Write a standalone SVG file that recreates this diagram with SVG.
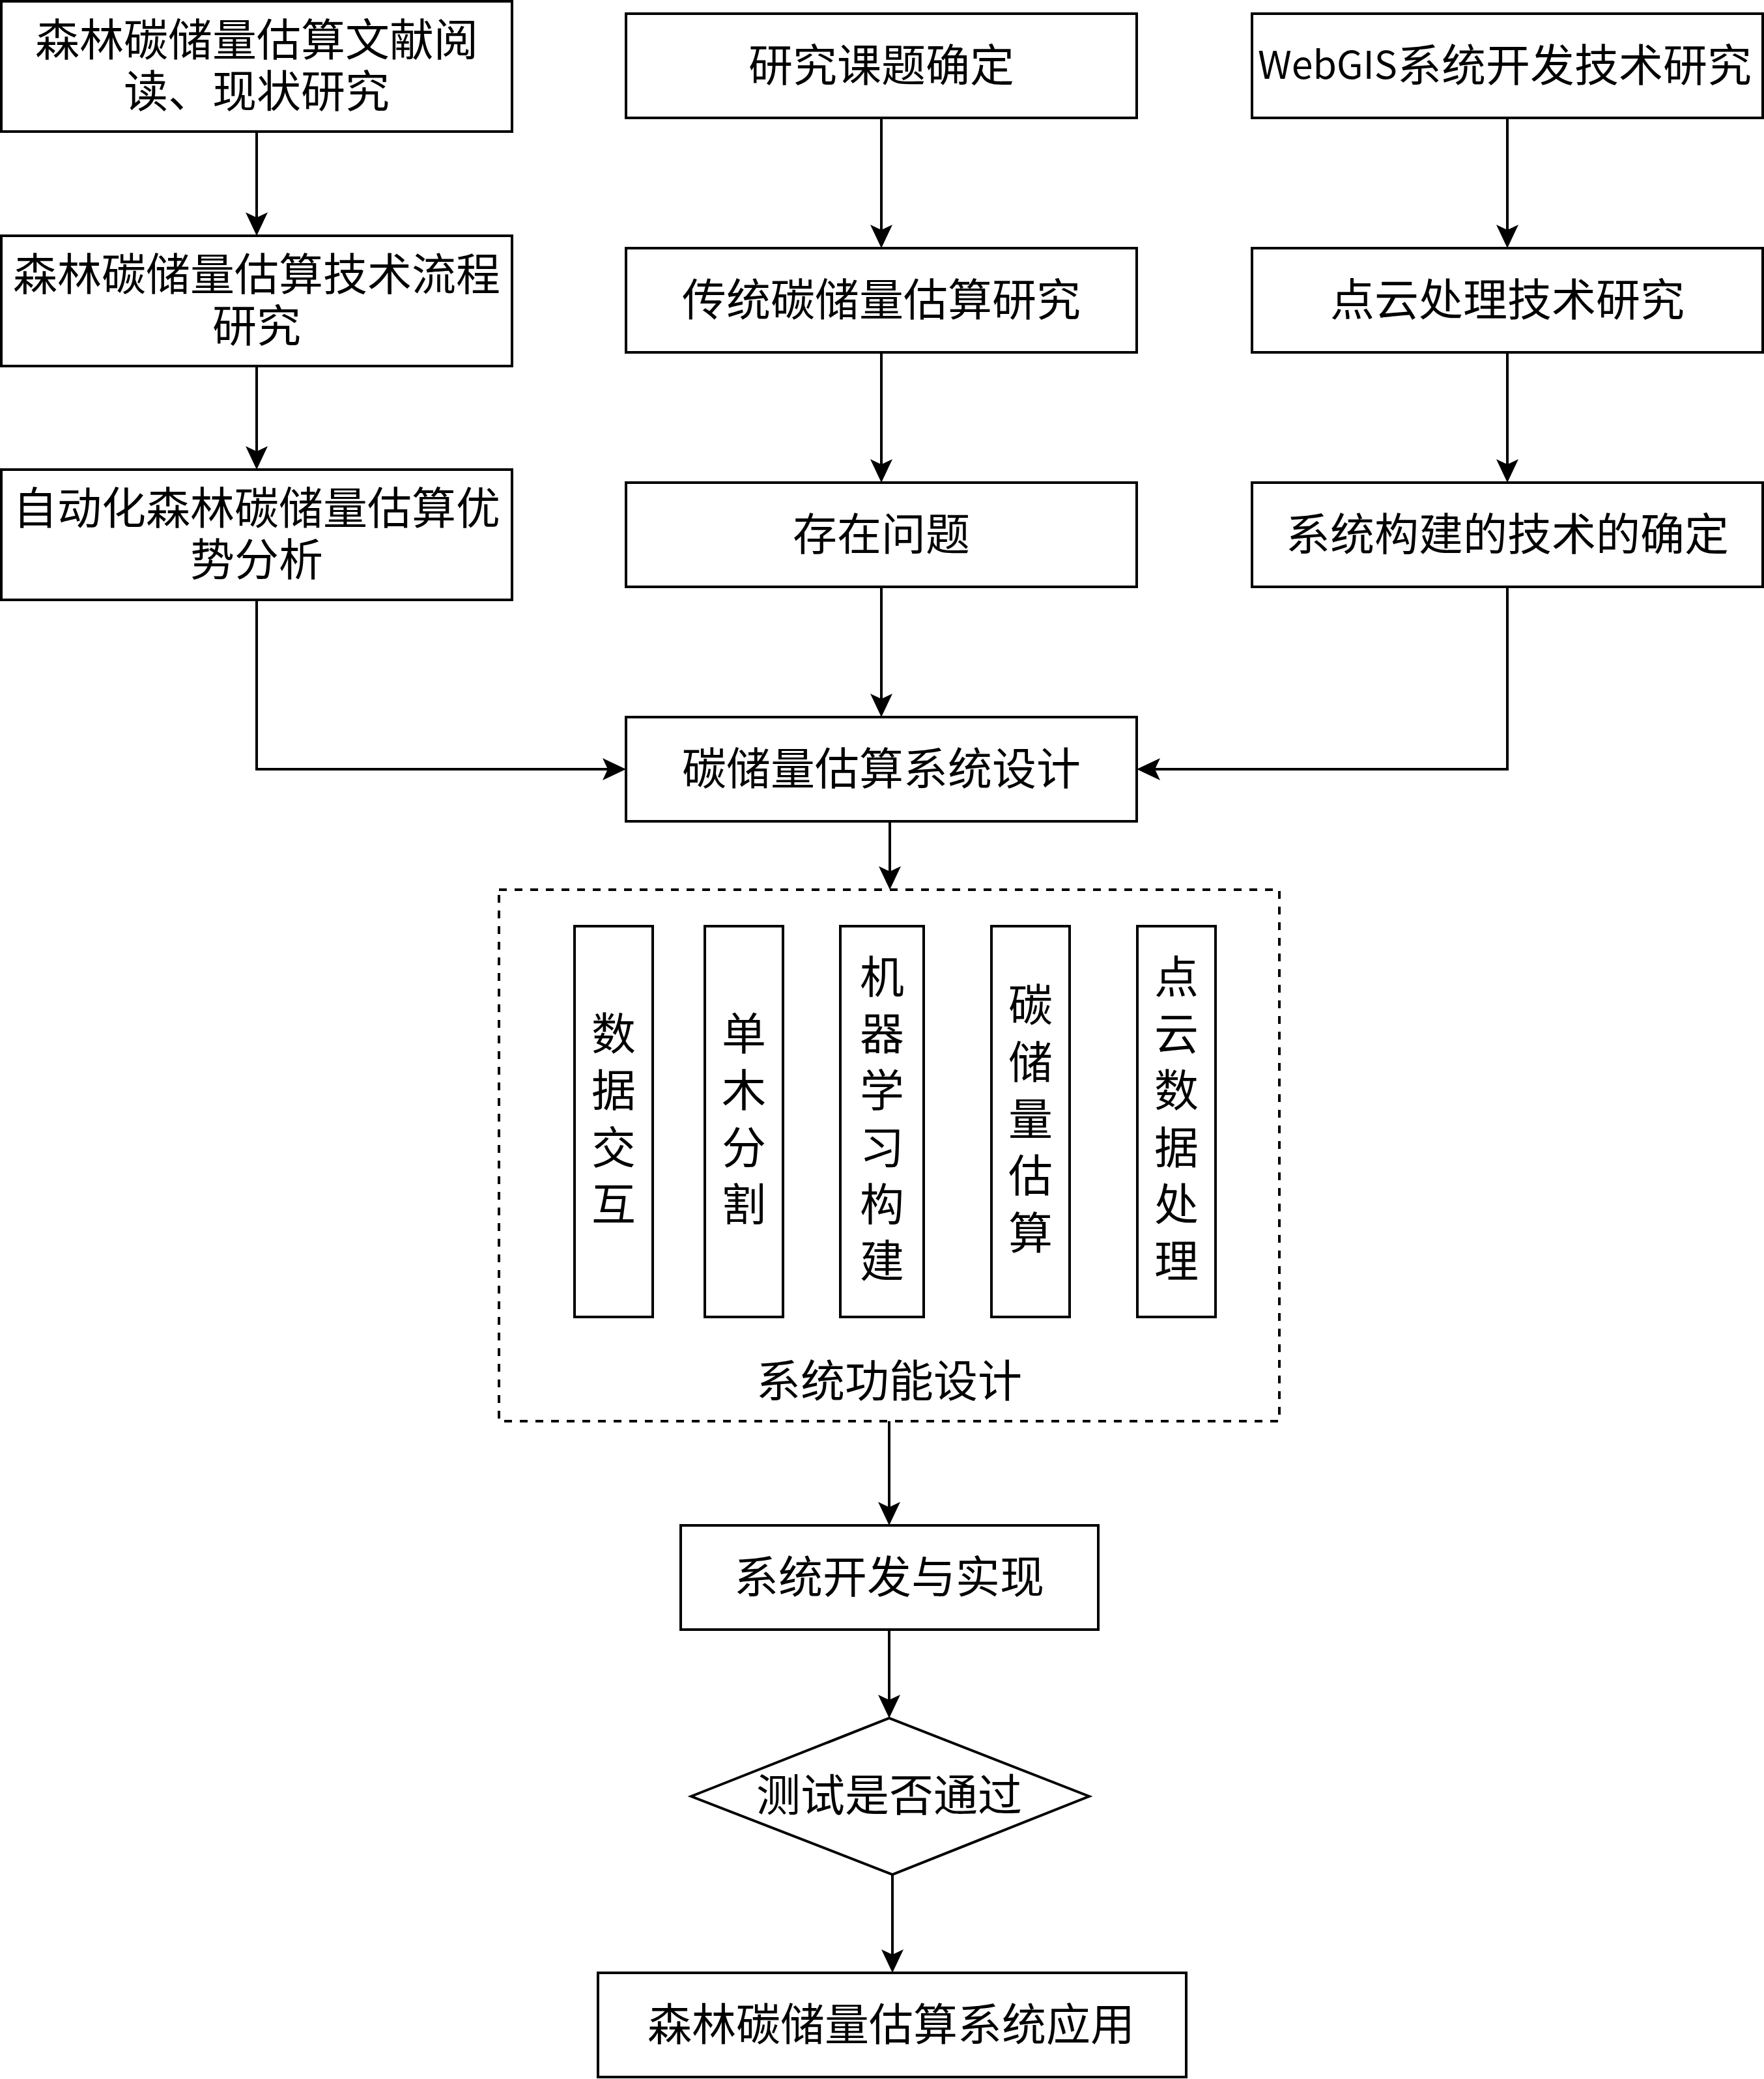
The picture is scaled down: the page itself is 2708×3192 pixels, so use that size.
<svg xmlns="http://www.w3.org/2000/svg" width="2708" height="3192" viewBox="0 0 2708 3192">
<style>
.box{fill:#fff;stroke:#000;stroke-width:4}
.dash{fill:none;stroke:#000;stroke-width:4;stroke-dasharray:12 12}
.edge{fill:none;stroke:#000;stroke-width:4}
text{font-family:"Noto Sans CJK SC","Noto Sans",sans-serif;font-size:68px;fill:#000;text-anchor:middle;dominant-baseline:central}
.lat{font-size:59px}
</style>
<defs>
<marker id="arr" markerUnits="userSpaceOnUse" markerWidth="36" markerHeight="34" viewBox="0 0 36 34" refX="26" refY="17" orient="auto">
<path d="M0,0 L36,17 L0,34 L8,17 Z" fill="#000"/>
</marker>
</defs>
<rect width="2708" height="3192" fill="#fff"/>
<g id="connectors">
<path class="edge" d="M394,202 V352" marker-end="url(#arr)"/>
<path class="edge" d="M394,562 V711" marker-end="url(#arr)"/>
<path class="edge" d="M394,921 V1181 H951" marker-end="url(#arr)"/>
<path class="edge" d="M1353,181 V371" marker-end="url(#arr)"/>
<path class="edge" d="M1353,541 V731" marker-end="url(#arr)"/>
<path class="edge" d="M1353,901 V1091" marker-end="url(#arr)"/>
<path class="edge" d="M2314,181 V371" marker-end="url(#arr)"/>
<path class="edge" d="M2314,541 V731" marker-end="url(#arr)"/>
<path class="edge" d="M2314,901 V1181 H1755" marker-end="url(#arr)"/>
<path class="edge" d="M1366,1261 V1356" marker-end="url(#arr)"/>
<path class="edge" d="M1365,2182 V2332" marker-end="url(#arr)"/>
<path class="edge" d="M1365,2502 V2628" marker-end="url(#arr)"/>
<path class="edge" d="M1370,2878 V3019" marker-end="url(#arr)"/>
</g>
<g id="n1"><rect class="box" x="2" y="2" width="784" height="200"/><text><tspan x="394" y="56">森林碳储量估算文献阅</tspan><tspan x="394" y="135">读、现状研究</tspan></text></g>
<g id="n2"><rect class="box" x="2" y="362" width="784" height="200"/><text><tspan x="394" y="416">森林碳储量估算技术流程</tspan><tspan x="394" y="495">研究</tspan></text></g>
<g id="n3"><rect class="box" x="2" y="721" width="784" height="200"/><text><tspan x="394" y="775">自动化森林碳储量估算优</tspan><tspan x="394" y="854">势分析</tspan></text></g>
<g id="n4"><rect class="box" x="961" y="21" width="784" height="160"/><text x="1353" y="95">研究课题确定</text></g>
<g id="n5"><rect class="box" x="961" y="381" width="784" height="160"/><text x="1353" y="455">传统碳储量估算研究</text></g>
<g id="n6"><rect class="box" x="961" y="741" width="784" height="160"/><text x="1353" y="815">存在问题</text></g>
<g id="n7"><rect class="box" x="1922" y="21" width="784" height="160"/><text x="2310" y="95"><tspan class="lat">WebGIS</tspan>系统开发技术研究</text></g>
<g id="n8"><rect class="box" x="1922" y="381" width="784" height="160"/><text x="2314" y="455">点云处理技术研究</text></g>
<g id="n9"><rect class="box" x="1922" y="741" width="784" height="160"/><text x="2314" y="815">系统构建的技术的确定</text></g>
<g id="n10"><rect class="box" x="961" y="1101" width="784" height="160"/><text x="1353" y="1175">碳储量估算系统设计</text></g>
<g id="n11"><rect class="dash" x="766" y="1366" width="1198" height="816"/><text x="1365" y="2115">系统功能设计</text></g>
<g id="n12"><rect class="box" x="882" y="1422" width="120" height="600"/><text><tspan x="942" y="1582">数</tspan><tspan x="942" y="1669">据</tspan><tspan x="942" y="1757">交</tspan><tspan x="942" y="1844">互</tspan></text></g>
<g id="n13"><rect class="box" x="1082" y="1422" width="120" height="600"/><text><tspan x="1142" y="1582">单</tspan><tspan x="1142" y="1669">木</tspan><tspan x="1142" y="1757">分</tspan><tspan x="1142" y="1844">割</tspan></text></g>
<g id="n14"><rect class="box" x="1290" y="1422" width="128" height="600"/><text><tspan x="1354" y="1495">机</tspan><tspan x="1354" y="1582">器</tspan><tspan x="1354" y="1669">学</tspan><tspan x="1354" y="1757">习</tspan><tspan x="1354" y="1844">构</tspan><tspan x="1354" y="1931">建</tspan></text></g>
<g id="n15"><rect class="box" x="1522" y="1422" width="120" height="600"/><text><tspan x="1582" y="1538">碳</tspan><tspan x="1582" y="1626">储</tspan><tspan x="1582" y="1713">量</tspan><tspan x="1582" y="1800">估</tspan><tspan x="1582" y="1888">算</tspan></text></g>
<g id="n16"><rect class="box" x="1746" y="1422" width="120" height="600"/><text><tspan x="1806" y="1495">点</tspan><tspan x="1806" y="1582">云</tspan><tspan x="1806" y="1669">数</tspan><tspan x="1806" y="1757">据</tspan><tspan x="1806" y="1844">处</tspan><tspan x="1806" y="1931">理</tspan></text></g>
<g id="n17"><rect class="box" x="1045" y="2342" width="641" height="160"/><text x="1365" y="2416">系统开发与实现</text></g>
<g id="n18"><polygon class="box" points="1061,2758 1365,2638 1672,2758 1370,2878"/><text x="1365" y="2751">测试是否通过</text></g>
<g id="n19"><rect class="box" x="918" y="3029" width="903" height="160"/><text x="1368" y="3103">森林碳储量估算系统应用</text></g>
</svg>
